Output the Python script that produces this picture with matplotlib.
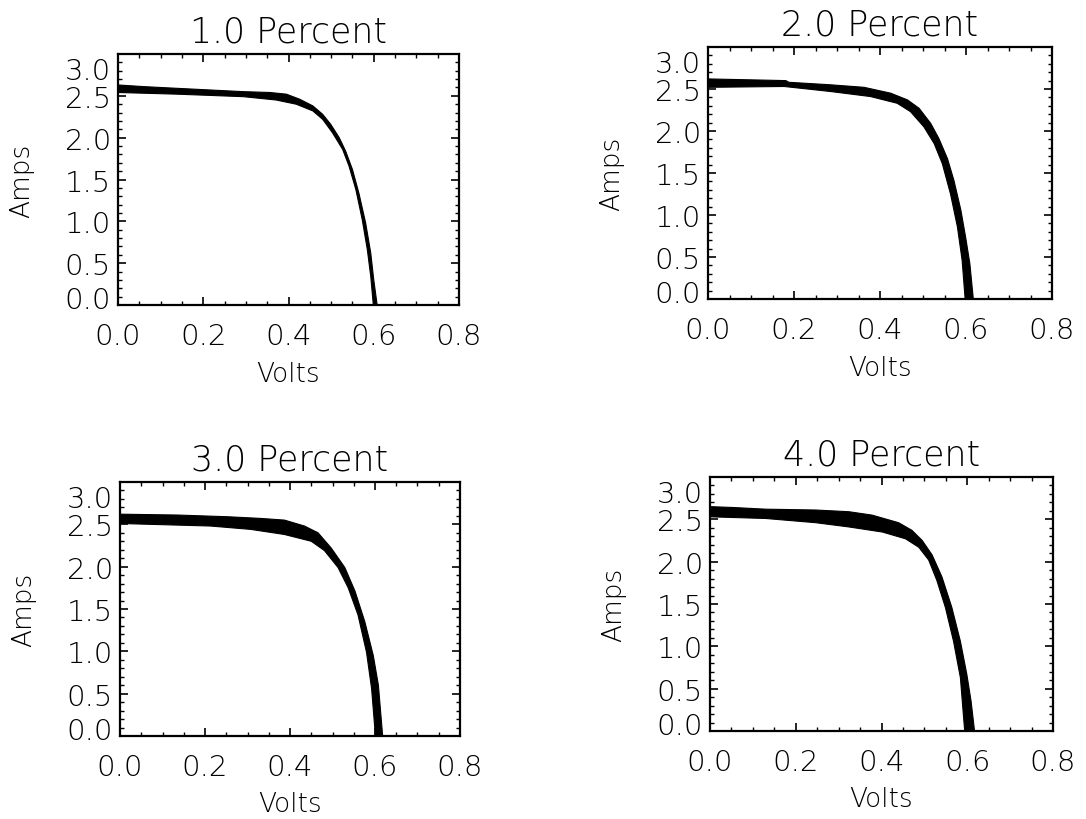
import numpy as np
import matplotlib
matplotlib.use("Agg")
import matplotlib.pyplot as plt
from matplotlib.ticker import MultipleLocator
from matplotlib.transforms import ScaledTranslation

# ---- data ----
titles = ["1.0 Percent", "2.0 Percent", "3.0 Percent", "4.0 Percent"]

# outer (upper/right) edge and inner (lower/left) edge of the band of I-V traces
outer_V1 = [0.0, 0.061, 0.138, 0.216, 0.294, 0.356, 0.395, 0.426, 0.457, 0.480, 0.499, 0.519, 0.534, 0.550, 0.565, 0.581, 0.593, 0.600, 0.608]
outer_I1 = [2.63, 2.61, 2.59, 2.57, 2.55, 2.54, 2.52, 2.46, 2.38, 2.28, 2.16, 2.00, 1.84, 1.62, 1.34, 0.98, 0.62, 0.30, 0.0]
inner_V1 = [0.0, 0.138, 0.294, 0.371, 0.418, 0.457, 0.480, 0.503, 0.527, 0.542, 0.558, 0.573, 0.585, 0.593, 0.599]
inner_I1 = [2.54, 2.52, 2.49, 2.45, 2.40, 2.32, 2.22, 2.06, 1.86, 1.66, 1.38, 1.02, 0.66, 0.34, 0.0]

outer_V2 = [0.0, 0.091, 0.181, 0.188, 0.285, 0.363, 0.425, 0.464, 0.491, 0.518, 0.537, 0.557, 0.572, 0.588, 0.599, 0.609, 0.617]
outer_I2 = [2.62, 2.61, 2.60, 2.58, 2.55, 2.52, 2.45, 2.37, 2.27, 2.09, 1.91, 1.67, 1.41, 1.06, 0.74, 0.42, 0.0]
inner_V2 = [0.0, 0.177, 0.285, 0.378, 0.440, 0.471, 0.502, 0.526, 0.545, 0.564, 0.580, 0.591, 0.598]
inner_I2 = [2.52, 2.53, 2.47, 2.41, 2.33, 2.23, 2.05, 1.85, 1.61, 1.25, 0.86, 0.46, 0.0]

outer_V3 = [0.0, 0.134, 0.252, 0.331, 0.387, 0.434, 0.466, 0.497, 0.529, 0.553, 0.576, 0.596, 0.608, 0.618]
outer_I3 = [2.62, 2.61, 2.59, 2.57, 2.55, 2.48, 2.40, 2.22, 1.99, 1.71, 1.35, 0.95, 0.60, 0.0]
inner_V3 = [0.0, 0.213, 0.308, 0.387, 0.450, 0.481, 0.513, 0.537, 0.560, 0.580, 0.592, 0.601]
inner_I3 = [2.51, 2.48, 2.44, 2.38, 2.30, 2.19, 1.99, 1.75, 1.43, 0.99, 0.56, 0.0]

outer_V4 = [0.0, 0.053, 0.130, 0.247, 0.324, 0.378, 0.440, 0.471, 0.495, 0.518, 0.541, 0.564, 0.584, 0.599, 0.609, 0.617]
outer_I4 = [2.65, 2.64, 2.62, 2.61, 2.59, 2.55, 2.46, 2.37, 2.25, 2.08, 1.82, 1.46, 1.06, 0.67, 0.35, 0.0]
inner_V4 = [0.0, 0.130, 0.247, 0.324, 0.402, 0.456, 0.487, 0.510, 0.529, 0.549, 0.568, 0.584, 0.594]
inner_I4 = [2.53, 2.51, 2.46, 2.41, 2.35, 2.27, 2.17, 2.02, 1.78, 1.46, 1.06, 0.63, 0.0]

x_ticks = [0.0, 0.2, 0.4, 0.6, 0.8]
y_ticks = [0.0, 0.5, 1.0, 1.5, 2.0, 2.5, 3.0]

# ---- layout ----
W, H = 1086, 820
fig = plt.figure(figsize=(W / 100, H / 100), dpi=100)
fig.patch.set_facecolor("white")

# axes boxes in pixels: left, right, top, bottom
boxes = [(118, 459, 55, 306), (708, 1052, 48, 300), (120, 460, 483, 737), (710, 1053, 478, 732)]

panels = [(outer_V1, outer_I1, inner_V1, inner_I1),
          (outer_V2, outer_I2, inner_V2, inner_I2),
          (outer_V3, outer_I3, inner_V3, inner_I3),
          (outer_V4, outer_I4, inner_V4, inner_I4)]

FONT = "DejaVu Sans"
WT = "light"
tick_fs = 21
title_fs = 25
lab_fs = 19

for (l, r, t, b), (ov, oi, iv, ii), title in zip(boxes, panels, titles):
    w, h = r - l, b - t
    ax = fig.add_axes([l / W, 1 - b / H, w / W, h / H])
    xs = np.concatenate([ov, iv[::-1]])
    ys = np.concatenate([oi, ii[::-1]])
    ax.fill(xs, ys, color="black", lw=0.8, ec="black", joinstyle="round")
    ax.set_xlim(0, 0.8)
    ax.set_ylim(0, 3.0)
    ax.set_xticks(x_ticks)
    ax.set_yticks(y_ticks)
    ax.set_xticklabels([f"{v:.1f}" for v in x_ticks], fontsize=tick_fs, family=FONT, fontweight=WT)
    ax.set_yticklabels([f"{v:.1f}" for v in y_ticks], fontsize=tick_fs, family=FONT, fontweight=WT)
    ax.xaxis.set_minor_locator(MultipleLocator(0.05))
    ax.yaxis.set_minor_locator(MultipleLocator(0.1))
    ax.tick_params(which="both", direction="in", top=True, right=True, color="black")
    ax.tick_params(which="major", length=6, width=1.2)
    ax.tick_params(which="minor", length=3, width=1.0)
    ax.tick_params(axis="x", pad=12)
    ax.tick_params(axis="y", pad=5)
    for s in ax.spines.values():
        s.set_linewidth(1.6)
    # IDL-style crowded end labels
    ylabs = ax.get_yticklabels()
    ylabs[-1].set_transform(ylabs[-1].get_transform() + ScaledTranslation(0, -14 / 100, fig.dpi_scale_trans))
    ylabs[0].set_transform(ylabs[0].get_transform() + ScaledTranslation(0, 8 / 100, fig.dpi_scale_trans))

    ax.set_title(title, fontsize=title_fs, family=FONT, fontweight=WT, pad=9)
    ax.set_xlabel("Volts", fontsize=lab_fs, family=FONT, fontweight=WT, va="center")
    ax.xaxis.set_label_coords(0.5, -68 / h)
    ax.set_ylabel("Amps", fontsize=lab_fs, family=FONT, fontweight=WT, va="center")
    ax.yaxis.set_label_coords(-96 / w, 0.5)

fig.savefig("out.png", dpi=100, facecolor="white")
